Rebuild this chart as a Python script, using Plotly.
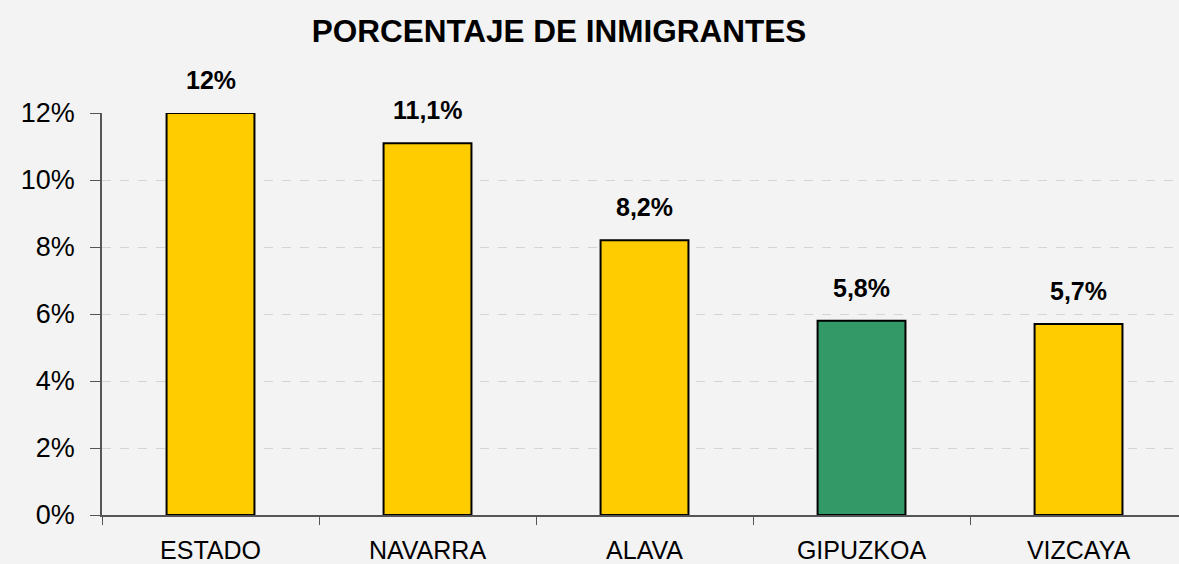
import plotly.graph_objects as go

categories = ["ESTADO", "NAVARRA", "ALAVA", "GIPUZKOA", "VIZCAYA"]
values = [12, 11.1, 8.2, 5.8, 5.7]
value_labels = ["12%", "11,1%", "8,2%", "5,8%", "5,7%"]
bar_colors = ["#FFCC00", "#FFCC00", "#FFCC00", "#339966", "#FFCC00"]
y_ticks = [0, 2, 4, 6, 8, 10, 12]

FONT = "Liberation Sans, Arial, sans-serif"

fig = go.Figure()
fig.add_trace(go.Bar(
    x=categories, y=values,
    marker=dict(color=bar_colors, line=dict(color="#000000", width=2)),
    width=0.405,
    hoverinfo="skip",
))

for c, v, t in zip(categories, values, value_labels):
    fig.add_annotation(x=c, y=v, text="<b>%s</b>" % t, showarrow=False,
                       yanchor="bottom", yshift=17,
                       font=dict(family=FONT, size=25, color="#000000"))

fig.update_layout(
    width=1179, height=564,
    paper_bgcolor="#f3f3f3", plot_bgcolor="#f3f3f3",
    margin=dict(l=102, r=0, t=113, b=49),
    showlegend=False,
    title=dict(text="<b>PORCENTAJE DE INMIGRANTES</b>", x=559 / 1179, xanchor="center",
               y=1 - 31 / 564, yanchor="middle",
               font=dict(family=FONT, size=31.5, color="#000000")),
    font=dict(family=FONT, color="#000000"),
    bargap=0.6,
)
fig.update_xaxes(
    range=[-0.5, 4.463], tickson="boundaries", ticks="outside", ticklen=8,
    tickcolor="#555555", showline=True, linecolor="#555555", linewidth=1.5,
    showgrid=False, automargin=False, tickfont=dict(size=25, color="#000000"),
    ticklabelstandoff=12,
)
fig.update_yaxes(
    range=[0, 12], tickvals=y_ticks, ticktext=["%d%%" % v for v in y_ticks],
    ticks="outside", ticklen=10, tickcolor="#555555",
    showline=True, linecolor="#555555", linewidth=1.5,
    showgrid=True, gridcolor="#d4d4d4", griddash="dash", gridwidth=1,
    zeroline=False, automargin=False, tickfont=dict(size=27, color="#000000"),
    ticklabelstandoff=10,
)

fig.write_html("out.html", config={"displayModeBar": False},
               post_script="document.body.style.margin='0';document.body.style.overflow='hidden';document.body.style.background='#f3f3f3';")
